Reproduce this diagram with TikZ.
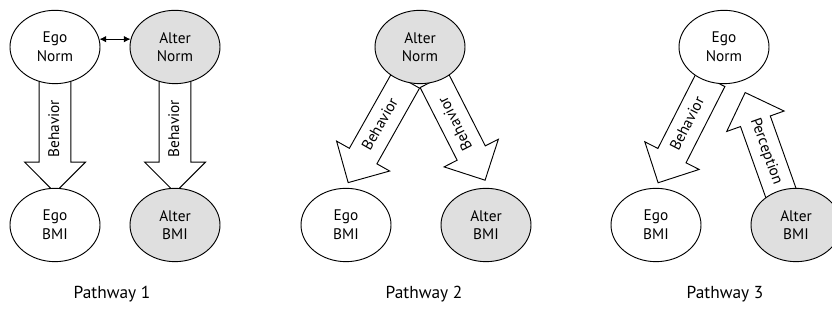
\documentclass[tikz,border=0pt]{standalone}
\usepackage{fontspec}
\setmainfont{PT Sans}
\usetikzlibrary{shapes.geometric,shapes.arrows,calc,backgrounds,arrows.meta}

\tikzset{
  state/.style={ellipse, draw, line width=0.7pt, minimum width=67.5pt,
    minimum height=55pt, inner sep=0pt, align=center,
    font=\fontsize{11.5}{14}\selectfont},
  egostate/.style={state, fill=white},
  alterstate/.style={state, fill=gray!25},
  fat/.style={single arrow, draw, fill=white, line width=0.7pt,
    shape border rotate=180, anchor=tail, inner xsep=2pt, inner ysep=6.5pt,
    text height=8pt, text depth=2pt, single arrow head extend=11pt,
    font=\fontsize{11.5}{13}\selectfont},
  caption/.style={font=\fontsize{13}{15}\selectfont}
}

\begin{document}
\begin{tikzpicture}[x=0.75pt,y=0.75pt]
\useasboundingbox (0,0) rectangle (832,323);

% pathway 1: both norms shape own BMI
\node[egostate] (egonorm1) at (55,276) {Ego\\Norm};
\node[alterstate] (alternorm1) at (175,276) {Alter\\Norm};
\node[egostate] (egobmi1) at (55,98) {Ego\\BMI};
\node[alterstate] (alterbmi1) at (175,98) {Alter\\BMI};
\draw[{Latex[length=5pt,width=5pt]}-{Latex[length=5pt,width=5pt]}, line width=0.9pt]
  (egonorm1.10) -- (alternorm1.170);

% pathway 2: alter norm shapes both BMIs
\node[alterstate] (alternorm2) at (420,276) {Alter\\Norm};
\node[egostate] (egobmi2) at (346,98) {Ego\\BMI};
\node[alterstate] (alterbmi2) at (486,98) {Alter\\BMI};

% pathway 3: behavior and perception
\node[egostate] (egonorm3) at (724,276) {Ego\\Norm};
\node[egostate] (egobmi3) at (656,98) {Ego\\BMI};
\node[alterstate] (alterbmi3) at (796,98) {Alter\\BMI};

% block arrows go under the ellipses
\begin{pgfonlayer}{background}
\node[fat, rotate=90, minimum height=84pt] (beh1a) at ($(egonorm1.south)+(0,4)$) {Behavior};
\node[fat, rotate=90, minimum height=84pt] (beh1b) at ($(alternorm1.south)+(0,4)$) {Behavior};
\node[fat, rotate=60.6, minimum height=88pt] (beh2a) at ($(alternorm2.center)+(-14,-33)$) {Behavior};
\node[fat, rotate=117, minimum height=84pt] (beh2b) at ($(alternorm2.center)+(14,-33)$) {Behavior};
\node[fat, rotate=63, minimum height=87pt] (beh3) at ($(egonorm3.center)+(-13,-32)$) {Behavior};
\node[fat, rotate=-70.4, minimum height=82pt] (perc3) at ($(alterbmi3.center)+(-14,29)$) {Perception};
\end{pgfonlayer}

\node[caption] (path1) at (112,29) {Pathway 1};
\node[caption] (path2) at (424,29) {Pathway 2};
\node[caption] (path3) at (725,29) {Pathway 3};

\end{tikzpicture}
\end{document}
